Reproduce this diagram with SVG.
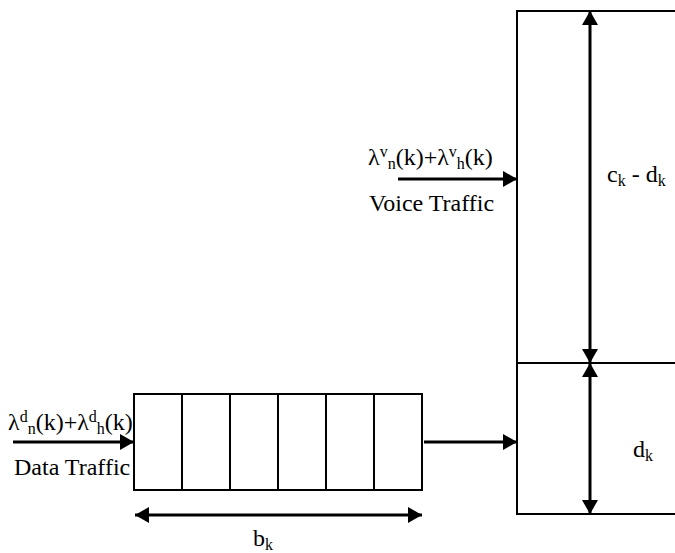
<svg xmlns="http://www.w3.org/2000/svg" width="675" height="553" viewBox="0 0 675 553">
<style>
.box{fill:#fff;stroke:#000;stroke-width:2}
.ln{fill:none;stroke:#000;stroke-width:2}
.ar{fill:none;stroke:#000;stroke-width:3}
text{font-family:"Liberation Serif","Times New Roman",serif;font-size:24px;fill:#000}
.s{font-size:16px}
</style>
<defs>
<marker id="ah" viewBox="0 0 14 16" refX="14" refY="8" markerWidth="14" markerHeight="16" markerUnits="userSpaceOnUse" orient="auto-start-reverse">
<path d="M0,0 L14,8 L0,16 Z" fill="#000"/>
</marker>
</defs>
<rect width="675" height="553" fill="#fff"/>
<g id="channel">
<rect class="box" x="517" y="11" width="170" height="503"/>
<line class="ln" x1="517" y1="363" x2="675" y2="363"/>
</g>
<g id="queue">
<rect class="box" x="134" y="394" width="288" height="96"/>
<line class="ln" x1="182" y1="394" x2="182" y2="490"/>
<line class="ln" x1="230" y1="394" x2="230" y2="490"/>
<line class="ln" x1="278" y1="394" x2="278" y2="490"/>
<line class="ln" x1="326" y1="394" x2="326" y2="490"/>
<line class="ln" x1="374" y1="394" x2="374" y2="490"/>
</g>
<g id="connectors">
<line class="ar" x1="398" y1="179" x2="517" y2="179" marker-end="url(#ah)"/>
<line class="ar" x1="13" y1="442" x2="134" y2="442" marker-end="url(#ah)"/>
<line class="ar" x1="424" y1="442" x2="517" y2="442" marker-end="url(#ah)"/>
<line class="ar" x1="590" y1="11" x2="590" y2="363" marker-start="url(#ah)" marker-end="url(#ah)"/>
<line class="ar" x1="590" y1="363" x2="590" y2="514" marker-start="url(#ah)" marker-end="url(#ah)"/>
<line class="ar" x1="135" y1="515" x2="422" y2="515" marker-start="url(#ah)" marker-end="url(#ah)"/>
</g>
<g id="labels">
<text x="368" y="165">λ<tspan class="s" dy="-8">v</tspan><tspan class="s" dy="12">n</tspan><tspan dy="-4">(k)+λ</tspan><tspan class="s" dy="-8">v</tspan><tspan class="s" dy="12">h</tspan><tspan dy="-4">(k)</tspan></text>
<text x="369" y="211">Voice Traffic</text>
<text x="8" y="430">λ<tspan class="s" dy="-8">d</tspan><tspan class="s" dy="12">n</tspan><tspan dy="-4">(k)+λ</tspan><tspan class="s" dy="-8">d</tspan><tspan class="s" dy="12">h</tspan><tspan dy="-4">(k)</tspan></text>
<text x="14" y="475">Data Traffic</text>
<text x="607" y="182">c<tspan class="s" dy="4">k</tspan><tspan dy="-4"> - d</tspan><tspan class="s" dy="4">k</tspan></text>
<text x="633" y="457">d<tspan class="s" dy="4">k</tspan></text>
<text x="253" y="546">b<tspan class="s" dy="4">k</tspan></text>
</g>
</svg>
